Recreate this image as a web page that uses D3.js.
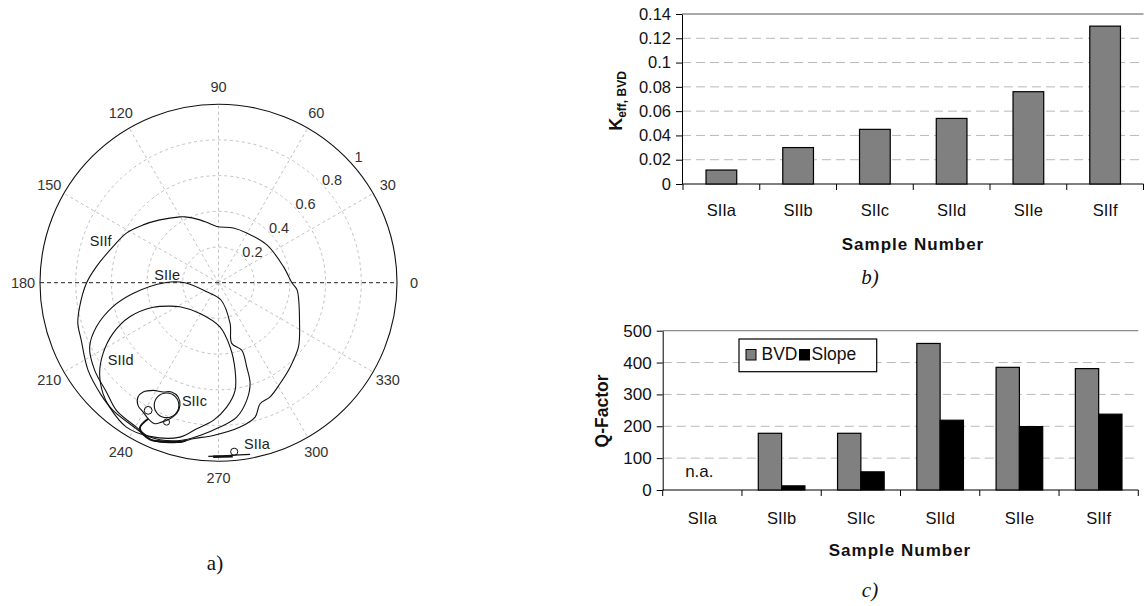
<!DOCTYPE html>
<html><head><meta charset="utf-8">
<script src="https://cdn.jsdelivr.net/npm/d3@7"></script>
<style>body{margin:0;background:#fff}svg{display:block}</style>
</head><body>
<svg id="c" width="1146" height="606"></svg>
<script>
// ---------------- DATA ----------------
// Polar plot (a): curves in normalised units (x = r·cosθ, y = r·sinθ)
const angleTicks = [0, 30, 60, 90, 120, 150, 180, 210, 240, 270, 300, 330];
const radialTicks = [0.2, 0.4, 0.6, 0.8, 1];

const siif = [[-0.329,0.352],[-0.216,0.369],[-0.188,0.369],[-0.104,0.352],[-0.057,0.334],[-0.010,0.315],[0.083,0.306],[0.158,0.278],[0.271,0.212],[0.364,0.090],[0.411,0.000],[0.440,-0.040],[0.454,-0.230],[0.448,-0.360],[0.402,-0.472],[0.345,-0.565],[0.289,-0.640],[0.233,-0.678],[0.205,-0.753],[0.121,-0.809],[-0.029,-0.856],[-0.142,-0.874],[-0.216,-0.893],[-0.366,-0.884],[-0.460,-0.818],[-0.591,-0.715],[-0.656,-0.631],[-0.731,-0.490],[-0.769,-0.322],[-0.788,-0.228],[-0.778,-0.135],[-0.740,-0.003],[-0.684,0.090],[-0.591,0.202],[-0.516,0.278],[-0.422,0.324]];
const siie = [[-0.301,0.000],[-0.188,0.000],[-0.066,-0.051],[0.014,-0.097],[0.065,-0.228],[0.074,-0.340],[0.130,-0.378],[0.158,-0.472],[0.177,-0.565],[0.158,-0.659],[0.102,-0.753],[0.008,-0.809],[-0.104,-0.856],[-0.216,-0.884],[-0.385,-0.865],[-0.460,-0.809],[-0.572,-0.715],[-0.628,-0.612],[-0.694,-0.490],[-0.722,-0.360],[-0.684,-0.247],[-0.593,-0.135],[-0.479,-0.060]];
const siid = [[-0.272,-0.131],[-0.216,-0.135],[-0.104,-0.172],[0.008,-0.247],[0.065,-0.360],[0.093,-0.490],[0.093,-0.603],[0.046,-0.697],[-0.029,-0.771],[-0.122,-0.818],[-0.216,-0.865],[-0.385,-0.861],[-0.516,-0.809],[-0.610,-0.697],[-0.647,-0.621],[-0.666,-0.509],[-0.647,-0.397],[-0.591,-0.284],[-0.497,-0.191],[-0.366,-0.138]];
const siicOuter = [[-0.451,-0.640],[-0.422,-0.612],[-0.366,-0.603],[-0.310,-0.612],[-0.263,-0.612],[-0.226,-0.640],[-0.216,-0.687],[-0.235,-0.734],[-0.272,-0.762],[-0.319,-0.781],[-0.357,-0.790],[-0.394,-0.762],[-0.422,-0.725],[-0.451,-0.687]];
const siicInner = [[-0.222,-0.687],[-0.242,-0.638],[-0.291,-0.618],[-0.340,-0.638],[-0.360,-0.687],[-0.340,-0.736],[-0.291,-0.756],[-0.242,-0.736]];
const siicTail = [[-0.394,-0.762],[-0.441,-0.816],[-0.385,-0.878],[-0.300,-0.890],[-0.216,-0.892],[-0.183,-0.884]];
const siicDots = [[-0.394,-0.715,0.022],[-0.291,-0.781,0.017]];
const siiaLine = [[-0.057,-0.973],[0.030,-0.970],[0.090,-0.966],[0.177,-0.962]];
const siiaThick = [[-0.030,-0.975],[0.080,-0.972]];
const siiaDot = [[0.088,-0.947,0.020]];
const curveLabels = [["SIIf",-0.660,0.234],["SIIe",-0.287,0.043],["SIId",-0.548,-0.434],["SIIc",-0.135,-0.665],["SIIa",0.215,-0.906]];

// Bar chart (b)
const samples = ["SIIa","SIIb","SIIc","SIId","SIIe","SIIf"];
const kEff = [0.0115, 0.030, 0.045, 0.054, 0.076, 0.130];
const kTicks = [0, 0.02, 0.04, 0.06, 0.08, 0.1, 0.12, 0.14];

// Bar chart (c)
const qSeries = ["BVD","Slope"];
const qBVD = [null, 178, 178, 460, 385, 381];
const qSlope = [null, 13, 57, 219, 199, 238];
const qTicks = [0, 100, 200, 300, 400, 500];

// ---------------- DRAW ----------------
const svg = d3.select("#c");
const SANS = "'Liberation Sans', Arial, Helvetica, sans-serif";
const SERIF = "'Liberation Serif', 'Times New Roman', serif";

// ---- (a) polar
const cx = 218.5, cy = 282.7, R = 178.5;
const px = d3.scaleLinear().domain([-1, 1]).range([cx - R, cx + R]);
const py = d3.scaleLinear().domain([-1, 1]).range([cy + R, cy - R]);
const pr = d3.scaleLinear().domain([0, 1]).range([0, R]);
const rad = d => d * Math.PI / 180;
const gp = svg.append("g");

gp.selectAll("circle.ring").data(radialTicks.filter(d => d < 1)).join("circle")
  .attr("cx", px(0)).attr("cy", py(0)).attr("r", d => pr(d))
  .attr("fill", "none").attr("stroke", "#c2c2c2").attr("stroke-width", 1)
  .attr("stroke-dasharray", "3,3");

gp.selectAll("line.spoke").data(angleTicks.filter(a => a !== 0 && a !== 180)).join("line")
  .attr("x1", px(0)).attr("y1", py(0))
  .attr("x2", a => px(Math.cos(rad(a)))).attr("y2", a => py(Math.sin(rad(a))))
  .attr("stroke", "#c2c2c2").attr("stroke-width", 1).attr("stroke-dasharray", "3,3");

gp.append("line").attr("x1", px(-1)).attr("x2", px(1)).attr("y1", py(0)).attr("y2", py(0))
  .attr("stroke", "#222").attr("stroke-width", 1).attr("stroke-dasharray", "4,3");

gp.append("circle").attr("cx", px(0)).attr("cy", py(0)).attr("r", pr(1))
  .attr("fill", "none").attr("stroke", "#111").attr("stroke-width", 1.1);

gp.selectAll("text.ang").data(angleTicks).join("text")
  .attr("x", a => px(1.095 * Math.cos(rad(a))))
  .attr("y", a => py(1.095 * Math.sin(rad(a))))
  .attr("text-anchor", "middle").attr("dominant-baseline", "central")
  .attr("font-family", SANS).attr("font-size", 14.5).attr("fill", "#333")
  .text(a => a);

gp.selectAll("text.rad").data(radialTicks).join("text")
  .attr("x", d => px((d + 0.056) * Math.cos(rad(42))))
  .attr("y", d => py((d + 0.056) * Math.sin(rad(42))))
  .attr("text-anchor", "middle").attr("dominant-baseline", "central")
  .attr("font-family", SANS).attr("font-size", 14.5).attr("fill", "#333")
  .text(d => d);

const closed = d3.line().x(d => px(d[0])).y(d => py(d[1])).curve(d3.curveCatmullRomClosed.alpha(0.5));
const open = d3.line().x(d => px(d[0])).y(d => py(d[1])).curve(d3.curveCatmullRom.alpha(0.5));
const lin = d3.line().x(d => px(d[0])).y(d => py(d[1]));

[siif, siie, siid, siicOuter, siicInner].forEach(s => {
  gp.append("path").attr("d", closed(s)).attr("fill", "none")
    .attr("stroke", "#111").attr("stroke-width", 1.1);
});
gp.append("path").attr("d", open(siicTail)).attr("fill", "none").attr("stroke", "#111").attr("stroke-width", 2);
gp.append("path").attr("d", lin(siiaLine)).attr("fill", "none").attr("stroke", "#111").attr("stroke-width", 1.1);
gp.append("path").attr("d", lin(siiaThick)).attr("fill", "none").attr("stroke", "#111").attr("stroke-width", 2.4);
gp.selectAll("circle.dot").data(siicDots.concat(siiaDot)).join("circle")
  .attr("cx", d => px(d[0])).attr("cy", d => py(d[1])).attr("r", d => pr(d[2]))
  .attr("fill", "none").attr("stroke", "#111").attr("stroke-width", 1);

gp.selectAll("text.lab").data(curveLabels).join("text")
  .attr("x", d => px(d[1])).attr("y", d => py(d[2]))
  .attr("text-anchor", "middle").attr("dominant-baseline", "central")
  .attr("font-family", SANS).attr("font-size", 14.5).attr("fill", "#222")
  .text(d => d[0]);

svg.append("text").attr("x", 215).attr("y", 570).attr("text-anchor", "middle")
  .attr("font-family", SERIF).attr("font-size", 21).attr("fill", "#111").text("a)");

// ---- helper for bar charts
function frame(g, x, y, ticks, fmt, L, Rr, T, B, fs) {
  // gridlines
  g.selectAll("line.grid").data(ticks.filter(t => t > 0)).join("line")
    .attr("x1", L).attr("x2", Rr).attr("y1", d => y(d)).attr("y2", d => y(d))
    .attr("stroke", (d, i, n) => i === n.length - 1 ? "#8c8c8c" : "#b8b8b8")
    .attr("stroke-width", (d, i, n) => i === n.length - 1 ? 1.3 : 1)
    .attr("stroke-dasharray", (d, i, n) => i === n.length - 1 ? null : "9,5");
  const ax = g.append("g").attr("transform", `translate(${L},0)`)
    .call(d3.axisLeft(y).tickValues(ticks).tickSize(6).tickSizeOuter(0).tickPadding(5).tickFormat(fmt));
  ax.select(".domain").attr("stroke", "#000");
  ax.selectAll(".tick line").attr("stroke", "#000");
  ax.selectAll("text").attr("font-family", SANS).attr("font-size", fs).attr("fill", "#111");
  // x baseline
  g.append("line").attr("x1", L).attr("x2", Rr).attr("y1", B).attr("y2", B).attr("stroke", "#000").attr("stroke-width", 1.2);
  const step = x.step();
  g.selectAll("line.xt").data(d3.range(samples.length + 1)).join("line")
    .attr("x1", i => x.range()[0] + i * step).attr("x2", i => x.range()[0] + i * step)
    .attr("y1", B).attr("y2", B + 6).attr("stroke", "#000");
}

// ---- (b)
{
  const L = 682, Rr = 1143.5, T = 14, B = 184;
  const x = d3.scaleBand().domain(samples).range([L + 1, Rr]).padding(0);
  const xi = d3.scaleBand().domain(["k"]).range([0, x.bandwidth()]).paddingOuter(0.75);
  const y = d3.scaleLinear().domain([0, 0.14]).range([B, T]);
  const g = svg.append("g");
  frame(g, x, y, kTicks, d => d === 0 ? "0" : String(+d.toFixed(2)), L, Rr, T, B, 16.5);
  g.selectAll("rect.bar").data(samples.map((s, i) => ({ s, v: kEff[i] }))).join("rect")
    .attr("x", d => x(d.s) + xi("k")).attr("width", xi.bandwidth())
    .attr("y", d => y(d.v)).attr("height", d => y(0) - y(d.v))
    .attr("fill", "#808080").attr("stroke", "#000").attr("stroke-width", 1.2);
  g.selectAll("text.xl").data(samples).join("text")
    .attr("x", d => x(d) + x.bandwidth() / 2).attr("y", 216)
    .attr("text-anchor", "middle").attr("font-family", SANS).attr("font-size", 16.5).attr("fill", "#111")
    .text(d => d);
  g.append("text").attr("x", 913).attr("y", 249.5).attr("text-anchor", "middle")
    .attr("font-family", SANS).attr("font-weight", "bold").attr("font-size", 17).attr("letter-spacing", 1)
    .attr("fill", "#111").text("Sample Number");
  g.append("text").attr("x", 870).attr("y", 284).attr("text-anchor", "middle")
    .attr("font-family", SERIF).attr("font-style", "italic").attr("font-size", 21).attr("fill", "#111").text("b)");
  const yt = g.append("text").attr("transform", "translate(622,101) rotate(-90)")
    .attr("text-anchor", "middle").attr("font-family", SANS).attr("font-weight", "bold").attr("fill", "#111");
  yt.append("tspan").attr("font-size", 18).text("K");
  yt.append("tspan").attr("font-size", 12).attr("dy", 4).text("eff, BVD");
}

// ---- (c)
{
  const L = 662.7, Rr = 1138.3, T = 330.7, B = 490;
  const x = d3.scaleBand().domain(samples).range([L, Rr]).padding(0);
  const xi = d3.scaleBand().domain(qSeries).range([0, x.bandwidth()]).paddingInner(0).paddingOuter(0.7);
  const y = d3.scaleLinear().domain([0, 500]).range([B, T]);
  const g = svg.append("g");
  frame(g, x, y, qTicks, d => d, L, Rr, T, B, 17);
  const colors = { BVD: "#808080", Slope: "#000" };
  const rows = [];
  samples.forEach((s, i) => {
    if (qBVD[i] != null) rows.push({ s, k: "BVD", v: qBVD[i] });
    if (qSlope[i] != null) rows.push({ s, k: "Slope", v: qSlope[i] });
  });
  g.selectAll("rect.bar").data(rows).join("rect")
    .attr("x", d => x(d.s) + xi(d.k)).attr("width", xi.bandwidth())
    .attr("y", d => y(d.v)).attr("height", d => y(0) - y(d.v))
    .attr("fill", d => colors[d.k]).attr("stroke", "#000").attr("stroke-width", 1.2);
  g.append("text").attr("x", x("SIIa") + x.bandwidth() / 2 - 3).attr("y", 477)
    .attr("text-anchor", "middle").attr("font-family", SANS).attr("font-size", 17).attr("fill", "#111").text("n.a.");
  g.selectAll("text.xl").data(samples).join("text")
    .attr("x", d => x(d) + x.bandwidth() / 2).attr("y", 523.5)
    .attr("text-anchor", "middle").attr("font-family", SANS).attr("font-size", 16.5).attr("fill", "#111")
    .text(d => d);
  g.append("text").attr("x", 900).attr("y", 555.5).attr("text-anchor", "middle")
    .attr("font-family", SANS).attr("font-weight", "bold").attr("font-size", 17).attr("letter-spacing", 1)
    .attr("fill", "#111").text("Sample Number");
  g.append("text").attr("x", 870).attr("y", 597).attr("text-anchor", "middle")
    .attr("font-family", SERIF).attr("font-style", "italic").attr("font-size", 21).attr("fill", "#111").text("c)");
  g.append("text").attr("transform", "translate(608,411) rotate(-90)")
    .attr("text-anchor", "middle").attr("font-family", SANS).attr("font-weight", "bold")
    .attr("font-size", 17.5).attr("fill", "#111").text("Q-Factor");
  // legend
  const lg = g.append("g");
  lg.append("rect").attr("x", 739).attr("y", 339).attr("width", 137.7).attr("height", 32.7)
    .attr("fill", "#fff").attr("stroke", "#000").attr("stroke-width", 1.2);
  const items = [{ k: "BVD", sx: 746, tx: 761.5 }, { k: "Slope", sx: 799.5, tx: 811.5 }];
  lg.selectAll("rect.sw").data(items).join("rect")
    .attr("x", d => d.sx).attr("y", 349.5).attr("width", 10).attr("height", 10.5)
    .attr("fill", d => colors[d.k]).attr("stroke", "#000").attr("stroke-width", 1);
  lg.selectAll("text.lt").data(items).join("text")
    .attr("x", d => d.tx).attr("y", 360).attr("font-family", SANS).attr("font-size", 17.5).attr("fill", "#111")
    .text(d => d.k);
}
</script>
</body></html>
